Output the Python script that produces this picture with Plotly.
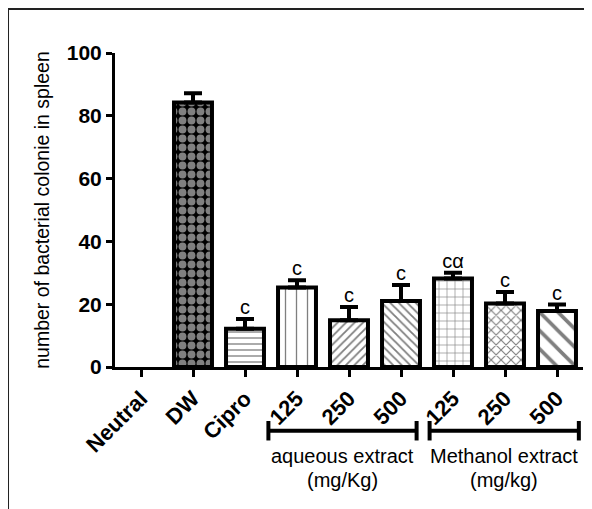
import plotly.graph_objects as go

categories = ["Neutral", "DW", "Cipro", "125 ", "250 ", "500 ", "125", "250", "500"]
tick_labels = ["Neutral", "DW", "Cipro", "125", "250", "500", "125", "250", "500"]
means = [0, 84.2, 12.2, 25.3, 14.9, 21.0, 28.2, 20.2, 17.8]
errors = [0, 3.0, 3.1, 2.3, 4.2, 5.1, 1.8, 3.7, 2.1]
sig_labels = ["", "", "c", "c", "c", "c", "c\u03b1", "c", "c"]
group_names = ["aqueous extract", "Methanol extract"]
group_units = ["(mg/Kg)", "(mg/kg)"]

patterns = [
    dict(shape="", size=8, solidity=0.2),
    dict(shape=".", size=9, solidity=0.6, fgcolor="white", bgcolor="black"),
    dict(shape="-", size=6, solidity=0.22, fgcolor="black", bgcolor="white"),
    dict(shape="|", size=11, solidity=0.12, fgcolor="black", bgcolor="white"),
    dict(shape="/", size=6, solidity=0.3, fgcolor="black", bgcolor="white"),
    dict(shape="\\", size=6, solidity=0.3, fgcolor="black", bgcolor="white"),
    dict(shape="+", size=8, solidity=0.15, fgcolor="black", bgcolor="white"),
    dict(shape="x", size=7, solidity=0.3, fgcolor="black", bgcolor="white"),
    dict(shape="\\", size=13, solidity=0.28, fgcolor="black", bgcolor="white"),
]

FONT = "Arial, 'Liberation Sans', sans-serif"

fig = go.Figure()
for i, c in enumerate(categories):
    fig.add_trace(go.Bar(
        x=[i], y=[means[i]],
        marker=dict(color="white", line=dict(color="black", width=4 if means[i] > 0 else 0),
                    pattern=patterns[i]),
        error_y=dict(type="data", array=[errors[i]], arrayminus=[0], symmetric=False,
                     color="black", thickness=4, width=9, visible=means[i] > 0),
        width=0.73, showlegend=False,
    ))

fig.add_trace(go.Scatter(
    x=list(range(len(categories))),
    y=[m + e for m, e in zip(means, errors)],
    text=sig_labels, mode="text", textposition="top center",
    textfont=dict(size=20, color="black", family=FONT),
    showlegend=False, cliponaxis=False,
))

shapes = []
# outer frame
shapes.append(dict(type="rect", xref="paper", yref="paper", x0=-0.2286, x1=1.3,
                   y0=-0.8, y1=1.140, line=dict(color="#222", width=2)))
# group brackets
brackets = [(2.45, 5.3), (5.55, 8.42)]
for a, b in brackets:
    shapes.append(dict(type="line", xref="x", yref="paper", x0=a, x1=b, y0=-0.203, y1=-0.203,
                       line=dict(color="black", width=4)))
    for xx in (a, b):
        shapes.append(dict(type="line", xref="x", yref="paper", x0=xx, x1=xx, y0=-0.172, y1=-0.234,
                           line=dict(color="black", width=4)))

annotations = []
centers = [3.88, 6.98]
for cx, name, unit in zip(centers, group_names, group_units):
    annotations.append(dict(text=name, x=cx, y=-0.283, xref="x", yref="paper",
                            showarrow=False, yanchor="middle",
                            font=dict(size=20, family=FONT, color="black")))
    annotations.append(dict(text=unit, x=cx, y=-0.36, xref="x", yref="paper",
                            showarrow=False, yanchor="middle",
                            font=dict(size=20, family=FONT, color="black")))

fig.update_layout(
    width=584, height=501,
    margin=dict(l=107, r=9, t=45, b=142),
    plot_bgcolor="white", paper_bgcolor="white",
    font=dict(family=FONT, color="black"),
    shapes=shapes, annotations=annotations,
    bargap=0.27,
)
fig.update_xaxes(
    range=[-0.5, 8.5], tickmode="array", tickvals=list(range(len(categories))),
    ticktext=["<b>%s</b>" % t for t in tick_labels], tickangle=-45,
    tickfont=dict(size=22, family=FONT, color="black"),
    showline=True, linecolor="black", linewidth=3, ticks="outside", ticklen=7,
    tickwidth=2.5, tickcolor="black", showgrid=False, zeroline=False,
)
fig.update_yaxes(
    range=[0, 100], tickvals=[0, 20, 40, 60, 80, 100],
    ticktext=["<b>%d</b>" % v for v in [0, 20, 40, 60, 80, 100]],
    tickfont=dict(size=21, family=FONT, color="black"),
    showline=True, linecolor="black", linewidth=3, ticks="outside", ticklen=6,
    tickwidth=2.5, tickcolor="black", showgrid=False, zeroline=False,
    title=dict(text="number of bacterial colonie in spleen",
               font=dict(size=19.5, family=FONT, color="black"), standoff=12),
)

fig.write_html("out.html")
